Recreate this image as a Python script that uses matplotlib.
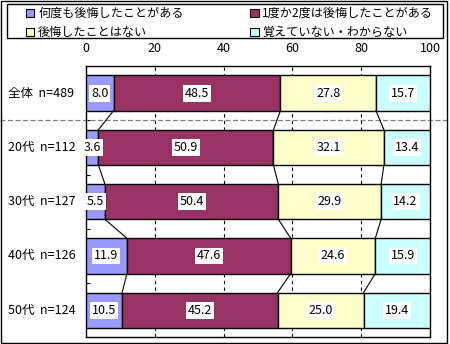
import matplotlib
matplotlib.use("Agg")
import matplotlib.pyplot as plt
import matplotlib.transforms as mtransforms
from matplotlib.patches import Rectangle
import numpy as np

plt.rcParams["font.family"] = ["Noto Sans CJK JP", "DejaVu Sans"]

categories = ["全体", "20代", "30代", "40代", "50代"]
counts = [489, 112, 127, 126, 124]
series_names = [
    "何度も後悔したことがある",
    "1度か2度は後悔したことがある",
    "後悔したことはない",
    "覚えていない・わからない",
]
often = [8.0, 3.6, 5.5, 11.9, 10.5]
once_twice = [48.5, 50.9, 50.4, 47.6, 45.2]
never = [27.8, 32.1, 29.9, 24.6, 25.0]
dont_know = [15.7, 13.4, 14.2, 15.9, 19.4]
colors = ["#9999FF", "#993366", "#FFFFCC", "#CCFFFF"]

W, H = 450, 344
fig = plt.figure(figsize=(W / 100, H / 100), dpi=100)
ax = fig.add_axes([86 / W, 1 - 337.3 / H, 344 / W, 271.3 / H])

data = np.array([often, once_twice, never, dont_know])
y = np.arange(len(categories))
bar_h = 0.65
left = np.zeros(len(categories))
for vals, col in zip(data, colors):
    ax.barh(y, vals, left=left, height=bar_h, color=col,
            edgecolor="black", linewidth=1.0, zorder=3)
    for yi, (l, v) in enumerate(zip(left, vals)):
        ax.text(l + v / 2, yi, f"{v:.1f}", ha="center", va="center",
                fontsize=9, zorder=5,
                bbox=dict(boxstyle="square,pad=0.15", fc="white", ec="none"))
    left = left + vals

# series lines between neighbouring bars
cum = np.cumsum(data, axis=0)
for i in range(len(categories) - 1):
    for k in range(3):
        ax.plot([cum[k, i], cum[k, i + 1]],
                [i + bar_h / 2, i + 1 - bar_h / 2],
                color="black", linewidth=0.8, zorder=4)

ax.set_xlim(0, 100)
ax.set_ylim(4.5, -0.5)
ax.xaxis.tick_top()
ax.set_xticks(range(0, 101, 20))
ax.tick_params(axis="x", length=0, pad=8, labelsize=9)
ax.set_yticks([])
ax.set_yticks([0.5, 1.5, 2.5, 3.5], minor=True)
ax.tick_params(axis="y", which="minor", direction="in", length=3, width=0.8)
for x in [20, 40, 60, 80]:
    ax.axvline(x, color="black", linewidth=0.8, linestyle=(0, (3, 3)), zorder=1)
for s in ax.spines.values():
    s.set_linewidth(1.0)

# category labels
blend = mtransforms.blended_transform_factory(fig.transFigure, ax.transData)
for yi, (cat, n) in enumerate(zip(categories, counts)):
    ax.text(8 / W, yi, f"{cat}  n={n}", transform=blend, ha="left",
            va="center", fontsize=9)

# dashed separator after the total row
ax.plot([0, 1], [0.5, 0.5], transform=blend, color="#808080",
        linewidth=0.9, linestyle=(0, (4, 2)), clip_on=False, zorder=2)

# legend filled row by row (matplotlib fills columns first)
order = [0, 2, 1, 3]
handles = [Rectangle((0, 0), 1, 1, fc=colors[i], ec="black", lw=0.8) for i in order]
labels = [series_names[i] for i in order]
fig.add_artist(Rectangle((7 / W, 1 - 38 / H), 436 / W, 34 / H,
                         transform=fig.transFigure, fc="white",
                         ec="black", lw=1.0))
fig.legend(handles, labels, loc="upper left", ncol=2,
           bbox_to_anchor=(26 / W, 1 - 7 / H), frameon=False,
           fontsize=8.7, handlelength=0.7, handleheight=0.7,
           handletextpad=0.3, borderpad=0, labelspacing=0.5,
           columnspacing=5.5, borderaxespad=0)

fig.add_artist(Rectangle((0.5 / W, 1 / H), 446 / W, 342.5 / H,
                         transform=fig.transFigure, fill=False,
                         ec="black", lw=1.0))

fig.savefig("out.png", dpi=100)
